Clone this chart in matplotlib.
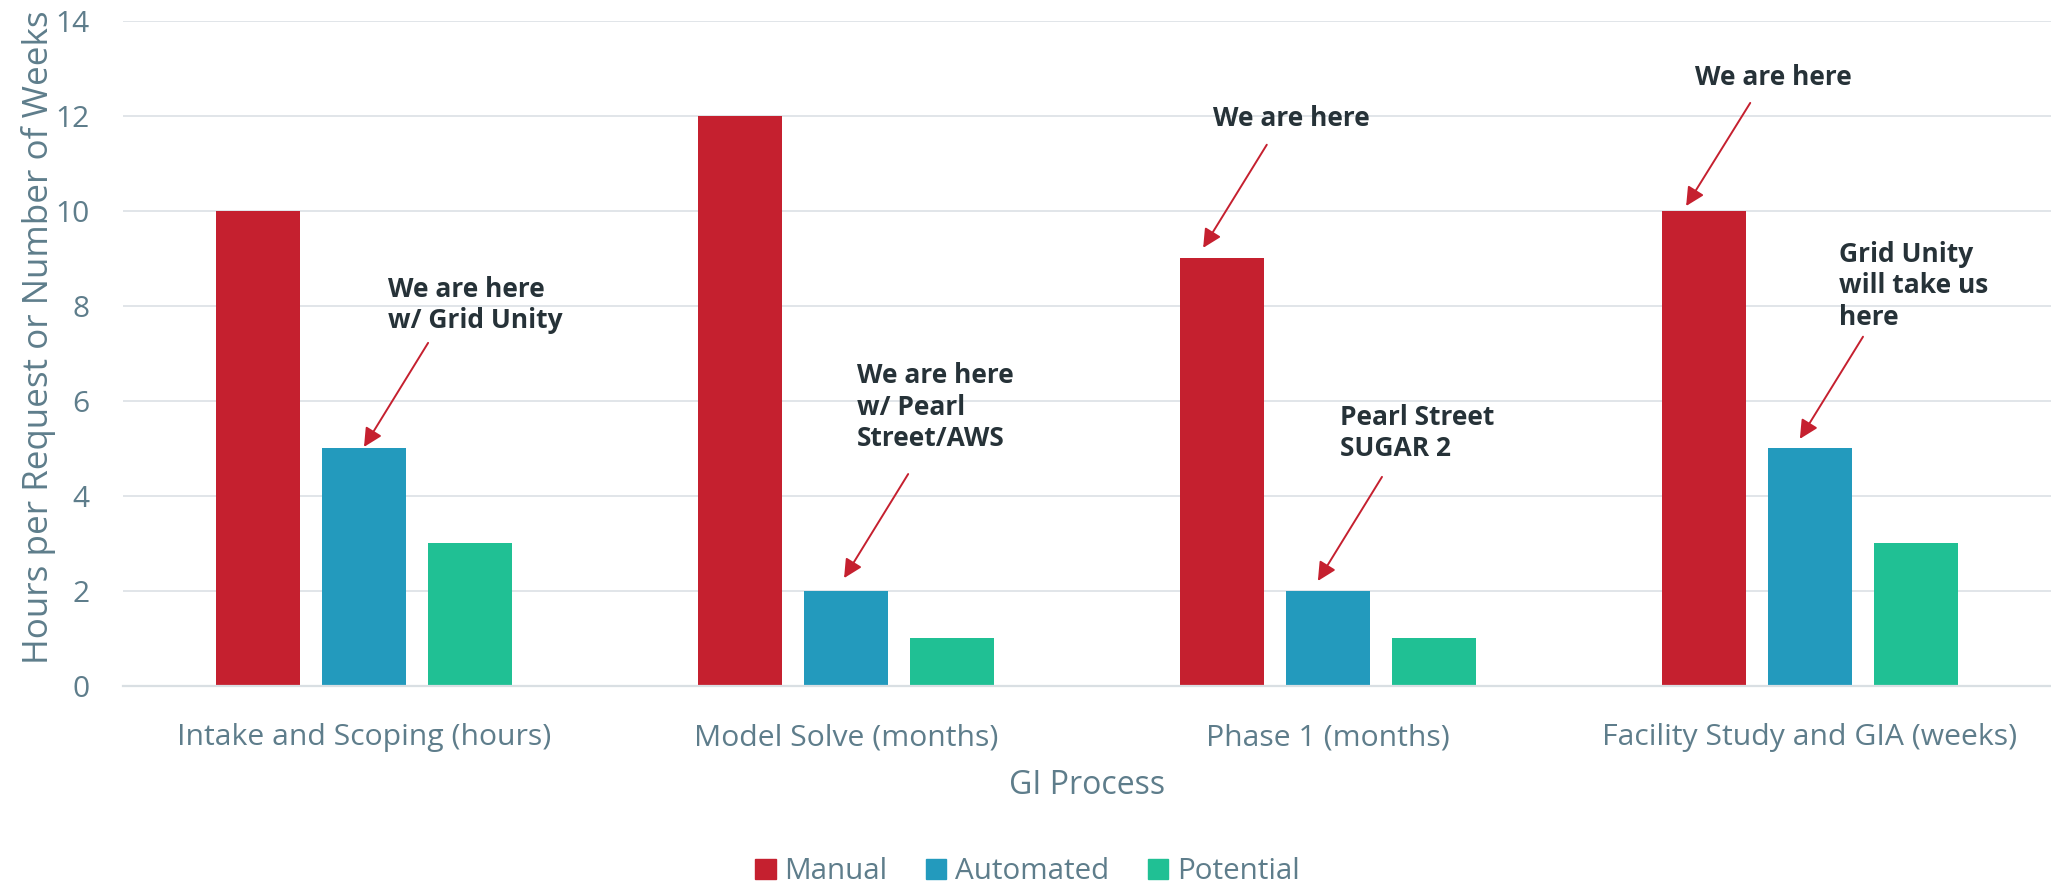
import numpy as np
import matplotlib
matplotlib.use("Agg")
import matplotlib.pyplot as plt
from matplotlib.patches import Patch

# Chart data
categories = ["Intake and Scoping (hours)", "Model Solve (months)",
              "Phase 1 (months)", "Facility Study and GIA (weeks)"]
manual = [10, 12, 9, 10]
automated = [5, 2, 2, 5]
potential = [3, 1, 1, 3]
series_names = ["Manual", "Automated", "Potential"]

# Callouts: text, text anchor (x, y), arrow start, arrow tip
callout_texts = ["We are here\nw/ Grid Unity",
                 "We are here\nw/ Pearl\nStreet/AWS",
                 "We are here",
                 "Pearl Street\nSUGAR 2",
                 "We are here",
                 "Grid Unity\nwill take us\nhere"]
callout_text_xy = [(0.050, 8.02), (1.023, 5.87), (1.761, 11.94),
                   (2.025, 5.33), (2.761, 12.80), (3.060, 8.42)]
callout_start = [(0.133, 7.22), (1.129, 4.46), (1.873, 11.39),
                 (2.112, 4.40), (2.876, 12.27), (3.110, 7.35)]
callout_tip = [(0.000, 5.03), (0.996, 2.27), (1.741, 9.22),
               (1.979, 2.21), (2.743, 10.10), (2.979, 5.20)]

RED = "#C5202F"
BLUE = "#239ABD"
GREEN = "#20C094"
AXIS_TEXT = "#5E7D8B"
NOTE_TEXT = "#263238"
GRID = "#DEE3E7"

plt.rcParams['font.family'] = ['Open Sans', 'DejaVu Sans']

fig = plt.figure(figsize=(20.51, 8.85), dpi=100)
ax = fig.add_axes([0.05997, 0.2249, 0.94003, 0.7517])

x = np.arange(len(categories))
width = 0.174
offset = 0.22
ax.bar(x - offset, manual, width, color=RED, zorder=3)
ax.bar(x, automated, width, color=BLUE, zorder=3)
ax.bar(x + offset, potential, width, color=GREEN, zorder=3)

ax.set_xlim(-0.5, len(categories) - 0.5)
ax.set_ylim(0, 14)
ax.set_yticks(range(0, 15, 2))
ax.set_xticks(x)
ax.set_xticklabels(categories)

ax.grid(axis='y', color=GRID, linewidth=1.3, zorder=0)
for side in ["top", "right", "left"]:
    ax.spines[side].set_visible(False)
ax.spines["bottom"].set_color("#D9DFE3")
ax.spines["bottom"].set_linewidth(1.6)
ax.spines["bottom"].set_zorder(4)

ax.tick_params(axis='y', length=0, pad=24, labelsize=21.5, labelcolor=AXIS_TEXT)
ax.tick_params(axis='x', length=0, pad=27, labelsize=21.7, labelcolor=AXIS_TEXT)

ax.set_xlabel("GI Process", fontsize=23, color=AXIS_TEXT, labelpad=12)
ax.set_ylabel("Hours per Request or Number of Weeks", fontsize=25.2,
              color=AXIS_TEXT)
ax.yaxis.set_label_coords(-0.035, 0.525)

# callouts
for txt, txy, start, tip in zip(callout_texts, callout_text_xy, callout_start, callout_tip):
    ax.text(txy[0], txy[1], txt, fontsize=19, fontweight='bold', color=NOTE_TEXT,
            ha='left', va='center', linespacing=1.2, zorder=5)
    ax.annotate("", xy=tip, xytext=start,
                arrowprops=dict(arrowstyle='-|>', color=RED, lw=1.4,
                                mutation_scale=28, shrinkA=0, shrinkB=0),
                zorder=5)

handles = [Patch(color=c) for c in (RED, BLUE, GREEN)]
leg = fig.legend(handles, series_names, loc='center', bbox_to_anchor=(0.501, 0.015),
                 ncol=3, frameon=False, fontsize=21.3, handlelength=0.69,
                 handleheight=0.69, handletextpad=0.3, columnspacing=1.3)
for t in leg.get_texts():
    t.set_color(AXIS_TEXT)

fig.savefig("out.png", dpi=100)
